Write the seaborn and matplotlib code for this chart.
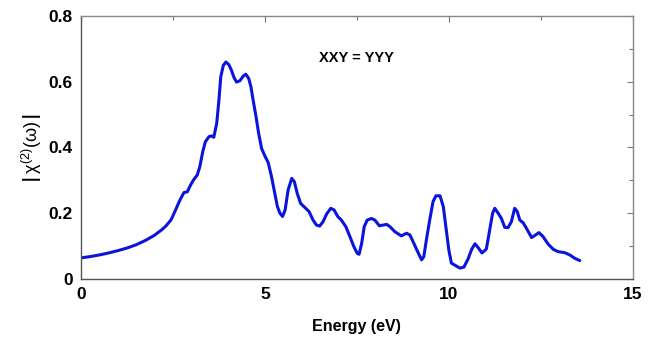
import matplotlib
matplotlib.use("Agg")
import matplotlib.pyplot as plt
import seaborn as sns
import pandas as pd
from matplotlib.ticker import MultipleLocator

energy = [0.0, 0.25, 0.5, 0.75, 1.0, 1.25, 1.5, 1.75, 2.0, 2.2, 2.3, 2.45,
          2.58, 2.69, 2.80, 2.89, 2.98, 3.07, 3.16, 3.23, 3.31, 3.38, 3.48, 3.55, 3.61,
          3.69, 3.75, 3.80, 3.87, 3.94, 4.02, 4.09, 4.16, 4.23, 4.32, 4.41, 4.48, 4.56,
          4.62, 4.68, 4.76, 4.83, 4.91, 5.00, 5.09, 5.18, 5.27, 5.34, 5.41, 5.48, 5.55,
          5.63, 5.73, 5.80, 5.88, 5.97, 6.09, 6.20, 6.31, 6.40, 6.49, 6.58, 6.68, 6.79,
          6.88, 6.98, 7.08, 7.20, 7.31, 7.42, 7.51, 7.56, 7.63, 7.70, 7.78, 7.90, 7.99,
          8.11, 8.22, 8.31, 8.40, 8.53, 8.71, 8.85, 8.94, 9.03, 9.14, 9.26, 9.32, 9.39,
          9.48, 9.57, 9.65, 9.76, 9.85, 9.92, 10.00, 10.07, 10.19, 10.30, 10.41, 10.52,
          10.62, 10.71, 10.80, 10.90, 11.02, 11.11, 11.19, 11.25, 11.34, 11.43, 11.52,
          11.61, 11.70, 11.79, 11.86, 11.93, 12.02, 12.11, 12.25, 12.36, 12.45, 12.56,
          12.70, 12.84, 12.97, 13.15, 13.29, 13.42, 13.56]
chi2 = [0.064, 0.068, 0.073, 0.079, 0.086, 0.094, 0.104, 0.117, 0.133, 0.150, 0.160, 0.180,
        0.212, 0.240, 0.263, 0.265, 0.286, 0.303, 0.316, 0.341, 0.387, 0.417, 0.433, 0.435,
        0.431, 0.473, 0.544, 0.615, 0.650, 0.660, 0.652, 0.635, 0.613, 0.599, 0.603, 0.617,
        0.623, 0.610, 0.585, 0.544, 0.493, 0.443, 0.397, 0.374, 0.354, 0.311, 0.260, 0.220,
        0.200, 0.190, 0.210, 0.270, 0.306, 0.296, 0.260, 0.230, 0.217, 0.205, 0.179, 0.164,
        0.161, 0.174, 0.198, 0.215, 0.210, 0.190, 0.179, 0.159, 0.129, 0.098, 0.078, 0.075,
        0.108, 0.159, 0.179, 0.184, 0.179, 0.162, 0.164, 0.166, 0.159, 0.144, 0.131, 0.139,
        0.134, 0.113, 0.086, 0.058, 0.068, 0.119, 0.179, 0.235, 0.253, 0.253, 0.220, 0.159,
        0.088, 0.048, 0.040, 0.033, 0.036, 0.060, 0.090, 0.107, 0.095, 0.079, 0.091, 0.149,
        0.200, 0.215, 0.200, 0.184, 0.157, 0.156, 0.174, 0.215, 0.205, 0.179, 0.171, 0.154,
        0.126, 0.134, 0.141, 0.129, 0.106, 0.090, 0.083, 0.080, 0.073, 0.063, 0.056]

xticks = [0, 5, 10, 15]
yticks = [0, 0.2, 0.4, 0.6, 0.8]
ytick_labels = ["0", "0.2", "0.4", "0.6", "0.8"]

sns.set_style("white")
plt.rcParams['font.family'] = ['Liberation Sans', 'DejaVu Sans']
plt.rcParams['text.color'] = 'black'
plt.rcParams['axes.labelcolor'] = 'black'
plt.rcParams['xtick.color'] = 'black'
plt.rcParams['ytick.color'] = 'black'

fig = plt.figure(figsize=(6.53, 3.41), dpi=100)
ax = fig.add_axes([0.124, 0.182, 0.845, 0.771])

df = pd.DataFrame({"Energy": energy, "chi": chi2})
sns.lineplot(data=df, x="Energy", y="chi", ax=ax, color="#0a14dc", linewidth=2.2, sort=False)
ax.lines[0].set_solid_joinstyle("round")

ax.set_xlim(0, 15)
ax.set_ylim(0, 0.8)
ax.set_xticks(xticks)
ax.set_xticklabels([str(t) for t in xticks])
ax.set_yticks(yticks)
ax.set_yticklabels(ytick_labels)
ax.xaxis.set_minor_locator(MultipleLocator(2.5))
ax.yaxis.set_minor_locator(MultipleLocator(0.1))
ax.tick_params(which="both", direction="in", top=True, right=True, color="#777777")
ax.tick_params(which="major", length=4, width=0.8, labelsize=12.5, pad=6)
ax.tick_params(which="minor", length=3, width=0.8)
for lbl in ax.get_xticklabels() + ax.get_yticklabels():
    lbl.set_fontweight("bold")
for s in ax.spines.values():
    s.set_color("#888888")
    s.set_linewidth(1.0)
ax.spines["left"].set_color("#555555")
ax.spines["bottom"].set_color("#555555")

ax.set_xlabel("Energy (eV)", fontsize=11.5, fontweight="bold", labelpad=12)
ax.set_ylabel(r"$\mathbf{|}\,\mathregular{\chi^{(2)}(\omega)}\,\mathbf{|}$", fontsize=13, labelpad=3)
ax.text(7.5, 0.672, "XXY = YYY", fontsize=10.5, fontweight="bold", ha="center", va="center")

fig.savefig("out.png", dpi=100)
